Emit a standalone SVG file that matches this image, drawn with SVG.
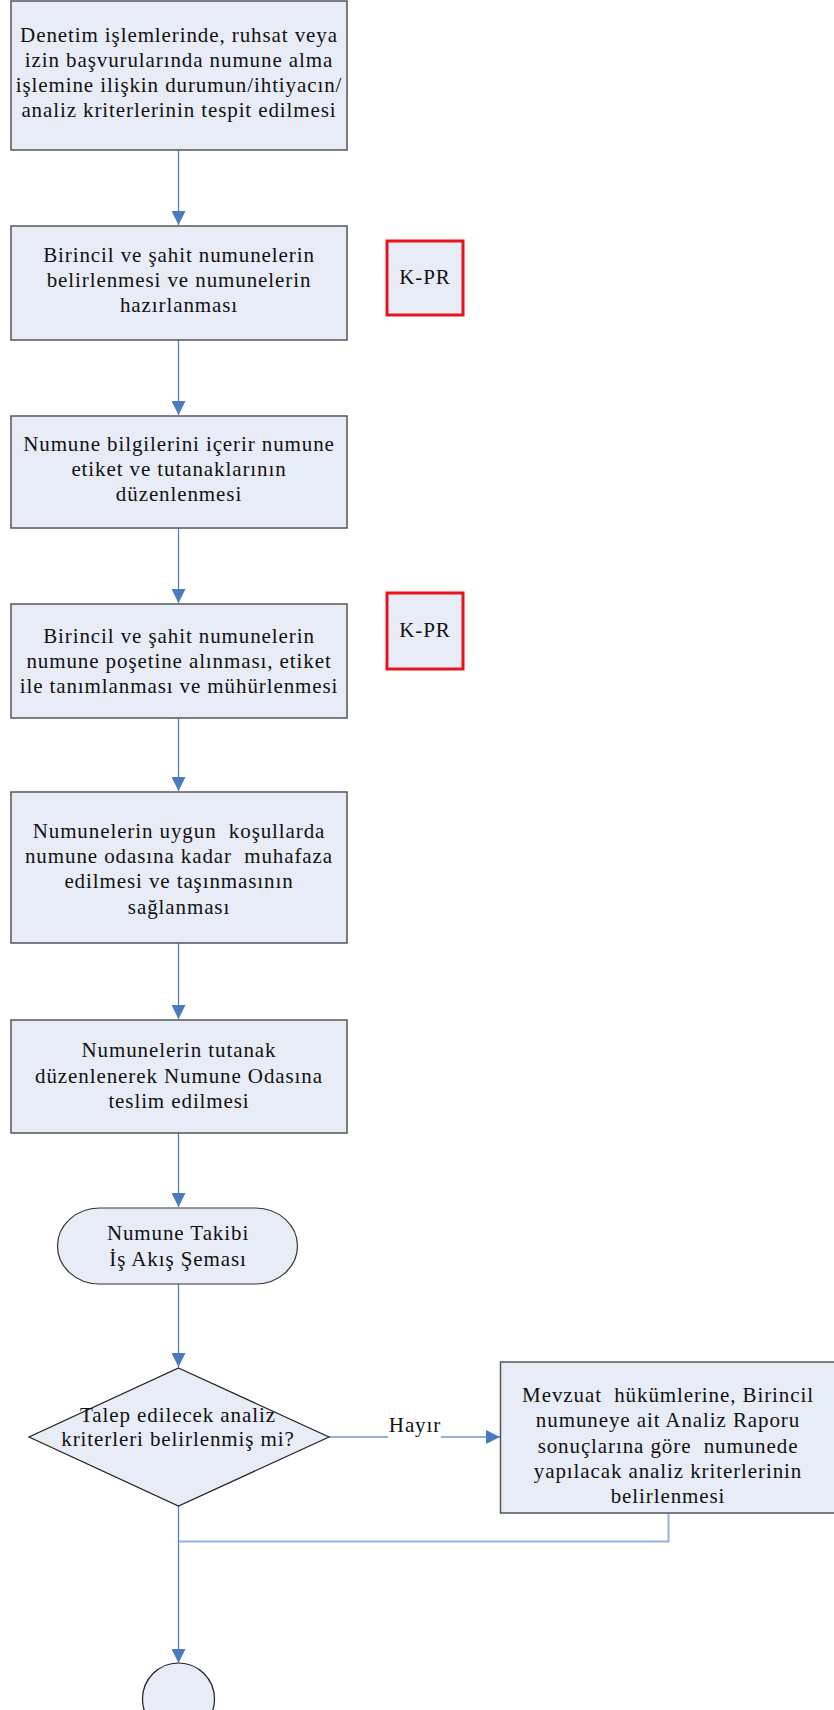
<svg xmlns="http://www.w3.org/2000/svg" width="834" height="1710" viewBox="0 0 834 1710">
<defs>
<style>
.box{fill:#e8ecf7;stroke:#555;stroke-width:1.5}
.kpr{fill:#e8ecf7;stroke:#e8141b;stroke-width:3}
.t{font-family:"Liberation Serif","Times New Roman",serif;font-size:21px;letter-spacing:0.9px;fill:#111;text-anchor:middle;white-space:pre}
.c{fill:none;stroke:#4f81bd;stroke-width:1.3}
.cl{fill:none;stroke:#95b3d7;stroke-width:2}
</style>
<marker id="ah" viewBox="0 0 10 10" refX="10" refY="5" markerWidth="14" markerHeight="14" markerUnits="userSpaceOnUse" orient="auto">
<path d="M0,0 L10,5 L0,10 z" fill="#4a7ac0"/>
</marker>
</defs>
<g id="connectors">
<line class="c" x1="178.5" y1="150" x2="178.5" y2="225" marker-end="url(#ah)"/>
<line class="c" x1="178.5" y1="340" x2="178.5" y2="415" marker-end="url(#ah)"/>
<line class="c" x1="178.5" y1="528" x2="178.5" y2="603" marker-end="url(#ah)"/>
<line class="c" x1="178.5" y1="718" x2="178.5" y2="791" marker-end="url(#ah)"/>
<line class="c" x1="178.5" y1="943" x2="178.5" y2="1019" marker-end="url(#ah)"/>
<line class="c" x1="178.5" y1="1133" x2="178.5" y2="1207" marker-end="url(#ah)"/>
<line class="c" x1="178.5" y1="1284" x2="178.5" y2="1367" marker-end="url(#ah)"/>
<line class="cl" x1="329" y1="1437" x2="388" y2="1437"/>
<line class="cl" x1="441" y1="1437" x2="492" y2="1437"/>
<line class="c" x1="488" y1="1437" x2="500" y2="1437" marker-end="url(#ah)"/>
<text class="t" x="415" y="1432">Hayır</text>
<polyline class="cl" points="668.5,1514 668.5,1541.5 178.5,1541.5"/>
<line class="c" x1="178.5" y1="1506" x2="178.5" y2="1663" marker-end="url(#ah)"/>
</g>
<g id="n1">
<rect class="box" x="11" y="1" width="336" height="149"/>
<text class="t" x="179" y="42">Denetim işlemlerinde, ruhsat veya</text>
<text class="t" x="179" y="67">izin başvurularında numune alma</text>
<text class="t" x="179" y="92">işlemine ilişkin durumun/ihtiyacın/</text>
<text class="t" x="179" y="117">analiz kriterlerinin tespit edilmesi</text>
</g>
<g id="n2">
<rect class="box" x="11" y="226" width="336" height="114"/>
<text class="t" x="179" y="262">Birincil ve şahit numunelerin</text>
<text class="t" x="179" y="287">belirlenmesi ve numunelerin</text>
<text class="t" x="179" y="312">hazırlanması</text>
</g>
<g id="kpr1">
<rect class="kpr" x="387" y="241" width="76" height="74"/>
<text class="t" x="425" y="284">K-PR</text>
</g>
<g id="n3">
<rect class="box" x="11" y="416" width="336" height="112"/>
<text class="t" x="179" y="451">Numune bilgilerini içerir numune</text>
<text class="t" x="179" y="476">etiket ve tutanaklarının</text>
<text class="t" x="179" y="501">düzenlenmesi</text>
</g>
<g id="n4">
<rect class="box" x="11" y="604" width="336" height="114"/>
<text class="t" x="179" y="643">Birincil ve şahit numunelerin</text>
<text class="t" x="179" y="668">numune poşetine alınması, etiket</text>
<text class="t" x="179" y="693">ile tanımlanması ve mühürlenmesi</text>
</g>
<g id="kpr2">
<rect class="kpr" x="387" y="593" width="76" height="76"/>
<text class="t" x="425" y="637">K-PR</text>
</g>
<g id="n5">
<rect class="box" x="11" y="792" width="336" height="151"/>
<text class="t" x="179" y="838">Numunelerin uygun  koşullarda</text>
<text class="t" x="179" y="863">numune odasına kadar  muhafaza</text>
<text class="t" x="179" y="888">edilmesi ve taşınmasının</text>
<text class="t" x="179" y="914">sağlanması</text>
</g>
<g id="n6">
<rect class="box" x="11" y="1020" width="336" height="113"/>
<text class="t" x="179" y="1057">Numunelerin tutanak</text>
<text class="t" x="179" y="1083">düzenlenerek Numune Odasına</text>
<text class="t" x="179" y="1108">teslim edilmesi</text>
</g>
<g id="term">
<rect x="57.5" y="1208" width="240" height="76" rx="42" ry="38" fill="#e8ecf7" stroke="#333" stroke-width="1.2"/>
<text class="t" x="178" y="1240">Numune Takibi</text>
<text class="t" x="178" y="1266">İş Akış Şeması</text>
</g>
<g id="decision">
<polygon points="178.5,1368 329,1437 178.5,1506 29,1437" fill="#e8ecf7" stroke="#222" stroke-width="1.2"/>
<text class="t" x="178" y="1422">Talep edilecek analiz</text>
<text class="t" x="178" y="1446">kriterleri belirlenmiş mi?</text>
</g>
<g id="n7">
<rect class="box" x="500.5" y="1362" width="336" height="151"/>
<text class="t" x="668" y="1402">Mevzuat  hükümlerine, Birincil</text>
<text class="t" x="668" y="1427">numuneye ait Analiz Raporu</text>
<text class="t" x="668" y="1453">sonuçlarına göre  numunede</text>
<text class="t" x="668" y="1478">yapılacak analiz kriterlerinin</text>
<text class="t" x="668" y="1503">belirlenmesi</text>
</g>
<g id="end">
<circle cx="178.5" cy="1699" r="36" fill="#e8ecf7" stroke="#222" stroke-width="1.2"/>
</g>
</svg>
